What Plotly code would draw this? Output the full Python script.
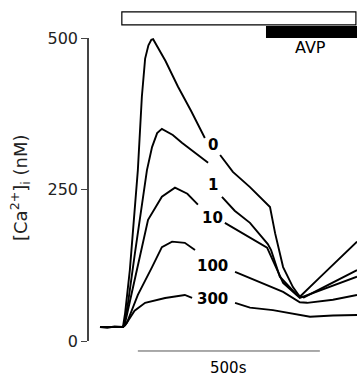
import plotly.graph_objects as go

# ---- data (time in s, [Ca2+]i in nM); None marks the gap left for the labels ----
t_0 = [0, 20, 40, 63, 69, 82, 104, 115, 124, 133, 141, 146, 180, 214, 250, 288, None,
       330, 365, 412, 467, 481, 503, 530, 549, 604, 706]
c_0 = [23, 22, 24, 23, 46, 117, 282, 403, 466, 488, 497, 498, 462, 420, 380, 335, None,
       307, 279, 254, 221, 178, 122, 89, 73, 105, 164]

t_1 = [0, 63, 66, 77, 96, 129, 143, 157, 170, 200, 225, 262, 297, None,
       335, 370, 412, 461, 470, 494, 541, 560, 706]
c_1 = [23, 23, 26, 63, 145, 282, 320, 343, 350, 340, 327, 310, 294, None,
       238, 215, 195, 160, 150, 106, 76, 72, 117]

t_10 = [0, 63, 69, 77, 104, 132, 170, 206, 240, 269, None,
        343, 380, 412, 459, 503, 549, 706]
c_10 = [23, 23, 30, 51, 125, 200, 238, 253, 243, 225, None,
        195, 182, 170, 154, 96, 71, 106]

t_100 = [0, 63, 74, 104, 143, 170, 198, 233, 261, None,
         371, 412, 460, 503, 549, 569, 640, 706]
c_100 = [23, 23, 30, 76, 122, 155, 164, 162, 150, None,
         114, 104, 92, 81, 64, 63, 68, 76]

t_300 = [0, 63, 69, 95, 124, 179, 233, 253, None,
         371, 412, 475, 577, 640, 706]
c_300 = [23, 23, 26, 50, 63, 71, 76, 71, None,
         63, 55, 51, 40, 42, 43]

series_t = [t_0, t_1, t_10, t_100, t_300]
series_c = [c_0, c_1, c_10, c_100, c_300]
series_names = ["0", "1", "10", "100", "300"]
label_t = [310, 310, 310, 308, 308]
label_c = [324, 258, 203, 124, 69]

y_ticks = [0, 250, 500]
stim_start, avp_start, t_end = 60, 456, 703
scale_start, scale_len = 104, 500

FONT = "DejaVu Sans, Liberation Sans, Arial, sans-serif"

fig = go.Figure()
for t, c, n in zip(series_t, series_c, series_names):
    fig.add_trace(go.Scatter(x=t, y=c, mode="lines", name=n, connectgaps=False,
                             line=dict(color="black", width=1.9), hoverinfo="skip"))

for n, lt, lc in zip(series_names, label_t, label_c):
    fig.add_annotation(x=lt, y=lc, xref="x", yref="y", text="<b>%s</b>" % n,
                       showarrow=False, font=dict(family=FONT, size=15, color="black"),
                       xanchor="center", yanchor="middle")

# stimulus bars
fig.add_shape(type="rect", xref="x", yref="paper", x0=stim_start, x1=t_end,
              y0=1.043, y1=1.086, line=dict(color="black", width=1.2), fillcolor="white")
fig.add_shape(type="rect", xref="x", yref="paper", x0=avp_start, x1=730,
              y0=1.0, y1=1.040, line=dict(color="black", width=0), fillcolor="black")
fig.add_annotation(x=577, y=484, xref="x", yref="y", text="AVP", showarrow=False,
                   font=dict(family=FONT, size=16, color="black"))

# time scale bar
fig.add_shape(type="line", xref="x", yref="paper", x0=scale_start, x1=scale_start + scale_len,
              y0=-0.033, y1=-0.033, line=dict(color="#555", width=1))
fig.add_annotation(x=scale_start + scale_len / 2, y=-0.09, xref="x", yref="paper",
                   text="500s", showarrow=False, yanchor="middle",
                   font=dict(family=FONT, size=15, color="black"))

# y title
fig.add_annotation(x=-0.2575, y=0.505, xref="paper", yref="paper",
                   text="[Ca<sup>2+</sup>]<sub>i</sub> (nM)", textangle=-90, showarrow=False,
                   xanchor="center", yanchor="middle",
                   font=dict(family=FONT, size=18, color="#222"))

fig.update_layout(
    width=357, height=379,
    margin=dict(l=89, r=0, t=38, b=38, autoexpand=False),
    paper_bgcolor="white", plot_bgcolor="white",
    showlegend=False,
    xaxis=dict(range=[-30.2, 706], visible=False, showgrid=False, zeroline=False),
    yaxis=dict(range=[0, 500], tickvals=y_ticks, ticktext=[str(v) for v in y_ticks],
               showline=True, linecolor="#444", linewidth=1.5, ticks="outside",
               ticklen=6, tickcolor="#444", tickwidth=1.2, showgrid=False, zeroline=False,
               tickfont=dict(family=FONT, size=16, color="#222")),
)

fig.write_html("out.html", config={"displayModeBar": False},
               post_script="document.body.style.margin='0';")
